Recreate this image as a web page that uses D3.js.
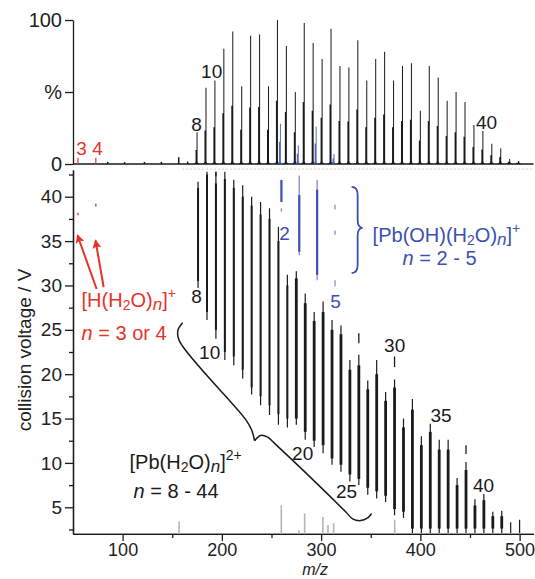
<!DOCTYPE html>
<html>
<head>
<meta charset="utf-8">
<script src="https://cdn.jsdelivr.net/npm/d3@7"></script>
<style>
	body { margin: 0; background: #fff; }
	svg { display: block; font-family: 'Liberation Sans', Arial, sans-serif; }
</style>
</head>
<body>
<div id="chart"></div>
<script>
/* [Pb(H2O)n]2+ clusters */
const clusterN = [8, 9, 10, 11, 12, 13, 14, 15, 16, 17, 18, 19, 20, 21, 22, 23, 24, 25, 26, 27, 28, 29, 30, 31, 32, 33, 34, 35, 36, 37, 38, 39, 40, 41, 42, 43, 44]
const clusterMz = [176, 185, 194, 203, 212, 221, 230, 239, 248, 257, 266, 275, 284, 293, 302, 311, 320, 329, 338, 347, 356, 365, 374, 383, 392, 401, 410, 419, 428, 437, 446, 455, 464, 473, 482, 491, 500]
const clusterIntensity = [22, 53, 58, 80, 92, 54, 89, 90, 54, 100, 82, 50, 98, 84, 73, 94, 68, 67, 86, 58, 73, 78, 58, 68, 70, 37, 68, 60, 44, 50, 43, 27, 23, 14, 11, 3.5, 2]
// collision voltage range where each cluster is seen (thin trace, and dense core)
const voltLow = [29.7, 26.1, 24.0, 21.6, 21.0, 19.5, 17.7, 16.5, 15.4, 14.3, 14.0, 14.3, 12.6, 11.8, 11.1, 9.8, 9.0, 7.9, 7.5, 6.4, 6.0, 5.6, 4.1, 3.8, 2.1, 2.1, 2.1, 2.1, 2.1, 2.1, 2.1, 2.1, 2.1, 2.1, 2.1, 2.1, 2.1]
const voltHigh = [41.7, 42.8, 42.8, 42.8, 41.9, 41.3, 40.0, 39.4, 38.7, 36.6, 31.2, 31.6, 29.1, 27.0, 28.2, 26.1, 25.5, 21.6, 22.2, 19.3, 21.6, 18.0, 19.4, 15.0, 17.2, 13.0, 14.4, 12.6, 12.6, 8.3, 10.1, 5.9, 6.5, 4.5, 4.6, 3.3, 3.6]
const coreLow = [30.5, 27.0, 25.0, 22.5, 22.0, 20.5, 18.5, 17.5, 16.5, 15.5, 15.0, 15.0, 13.5, 12.5, 12.0, 10.5, 9.8, 8.7, 8.2, 7.2, 6.8, 6.3, 4.8, 4.5, 2.6, 2.6, 2.6, 2.6, 2.6, 2.6, 2.6, 2.6, 2.6, 2.6, 2.6, 2.1, 2.1]
const coreHigh = [41.0, 42.5, 41.5, 42.0, 41.0, 40.0, 39.0, 38.0, 37.5, 35.0, 30.0, 30.8, 28.0, 26.0, 27.0, 25.0, 24.5, 20.5, 21.0, 18.3, 20.0, 17.0, 18.5, 14.0, 16.0, 12.0, 13.5, 11.5, 11.5, 7.5, 9.2, 5.2, 5.8, 4.0, 4.0, 2.1, 2.1]
// stray short traces above some clusters: [m/z, low V, high V]
const clusterDashes = [[194, 42.3, 42.8], [338, 23.5, 24.6], [374, 20.8, 22.0], [446, 11.0, 12.0]]
const shoulderRatio = 0.44

/* [Pb(OH)(H2O)n]+ */
const hydroxideN = [2, 3, 4, 5]
const hydroxideMz = [260, 278, 296, 314]
const hydroxideIntensity = [28, 13, 26, 7]
// [m/z, low V, high V, thick]
const hydroxideSegments = [
	[260, 39.4, 41.9, 1], [260, 38.3, 38.7, 0],
	[278, 33.4, 42.4, 0], [278, 33.8, 40.2, 1],
	[296, 30.6, 41.9, 0], [296, 31.2, 40.8, 1],
	[314, 38.6, 39.1, 0], [314, 35.7, 36.2, 0], [314, 29.9, 30.6, 0]
]

/* [H(H2O)n]+ */
const protonN = [3, 4]
const protonMz = [55, 73]
const protonIntensity = [3, 3]
const protonSegments = [[55, 37.9, 38.2], [73, 38.9, 39.2], [73, 34.5, 35.1]]

/* minor peaks on the spectrum baseline, and low-voltage background in the map */
const minorMz = [85, 102, 122, 139, 156.5, 165.5]
const minorIntensity = [0.8, 0.6, 0.8, 0.8, 4, 1]
const backgroundMz = [156.9, 259.9, 277.6, 283.4, 301.8, 306.9, 312.6, 374.1]
const backgroundVolt = [3.4, 5.2, 2.4, 4.3, 3.9, 3.0, 3.2, 3.6]

const xMajor = [100, 200, 300, 400, 500]
const xMinor = [150, 250, 350, 450]
const vMajor = [5, 10, 15, 20, 25, 30, 35, 40]
const vMinor = [2.5, 7.5, 12.5, 17.5, 22.5, 27.5, 32.5, 37.5, 42.5]
const iTicks = [0, 50, 100]
const iLabels = ['0', '%', '100']

const dimensions = { width: 535, height: 579 }
const ink = '#1a1a1a'
const red = '#e6332a'
const blue = '#3b50b2'
const gray = '#b5b5b5'

const svg = d3.select('#chart')
	.append('svg')
	.attr('width', dimensions.width)
	.attr('height', dimensions.height)

const x = d3.scaleLinear().domain([50, 514]).range([73, 533.5])
const yV = d3.scaleLinear().domain([2, 43]).range([533.9, 170.1])
const yI = d3.scaleLinear().domain([0, 100]).range([164, 20])

const tickFont = 18
const noteFont = 20
const numFont = 19

/* ---------- Axes ---------- */
const styleAxis = (size) => (g) => {
	g.selectAll('path, line').attr('stroke', ink).attr('stroke-width', 1.3)
	g.selectAll('text').attr('fill', '#222').attr('font-size', size).attr('font-family', null)
}

svg.append('g')
	.attr('transform', `translate(0,${yV(2)})`)
	.call(d3.axisBottom(x).tickValues(xMajor).tickSize(7).tickSizeOuter(0).tickPadding(2))
	.call(styleAxis(tickFont))

svg.append('g')
	.attr('transform', `translate(0,${yV(2)})`)
	.call(d3.axisBottom(x).tickValues(xMinor).tickSize(4).tickFormat('').tickSizeOuter(0))
	.call(styleAxis(tickFont))

svg.append('g')
	.attr('transform', `translate(${x(50)},0)`)
	.call(d3.axisLeft(yV).tickValues(vMajor).tickSize(8).tickSizeOuter(0).tickPadding(3))
	.call(styleAxis(19))

svg.append('g')
	.attr('transform', `translate(${x(50)},0)`)
	.call(d3.axisLeft(yV).tickValues(vMinor).tickSize(4).tickFormat('').tickSizeOuter(0))
	.call(styleAxis(19))

svg.append('g')
	.attr('transform', `translate(${x(50)},0)`)
	.call(d3.axisLeft(yI).tickValues(iTicks).tickSize(8).tickSizeOuter(0).tickPadding(3)
		.tickFormat((d, i) => iLabels[i]))
	.call(styleAxis(20))

// spectrum baseline
svg.append('line')
	.attr('x1', x(50)).attr('x2', x(514))
	.attr('y1', yI(0)).attr('y2', yI(0))
	.attr('stroke', ink).attr('stroke-width', 1.3)

// faint trace along the top of the map
svg.append('line')
	.attr('x1', x(160)).attr('x2', x(514))
	.attr('y1', yV(43) - 1).attr('y2', yV(43) - 1)
	.attr('stroke', '#d0d0d0').attr('stroke-width', 1).attr('stroke-dasharray', '2,2')

/* axis titles */
svg.append('text')
	.attr('transform', `translate(24,350) rotate(-90)`)
	.attr('text-anchor', 'middle')
	.attr('dy', '0.35em')
	.attr('font-size', 19)
	.attr('fill', '#222')
	.text('collision voltage / V')

svg.append('text')
	.attr('x', x(294)).attr('y', 575)
	.attr('text-anchor', 'middle')
	.attr('font-size', 16)
	.attr('font-style', 'italic')
	.attr('fill', '#222')
	.text('m/z')

/* ---------- Spectrum ---------- */
const peakPath = (px, top, shoulder) => {
	const base = yI(0)
	return `M${px - 4},${base} Q${px - 1.5},${base} ${px - 1.5},${base - 3} L${px - 1.5},${shoulder} ` +
		`L${px - 0.5},${shoulder} L${px - 0.5},${top} L${px + 0.5},${top} L${px + 0.5},${base - 3} ` +
		`Q${px + 0.5},${base} ${px + 3.5},${base} Z`
}

svg.append('g')
	.selectAll('path')
	.data(clusterMz)
	.join('path')
	.attr('d', (d, i) => peakPath(x(d) - 1, yI(clusterIntensity[i]), yI(clusterIntensity[i] * shoulderRatio)))
	.attr('fill', ink)

svg.append('g')
	.selectAll('path')
	.data(hydroxideMz)
	.join('path')
	.attr('d', (d, i) => peakPath(x(d) - 1, yI(hydroxideIntensity[i]), yI(hydroxideIntensity[i] * 0.55)))
	.attr('fill', blue)
	.attr('opacity', 0.85)

svg.append('g')
	.selectAll('line')
	.data(minorMz)
	.join('line')
	.attr('x1', (d) => x(d)).attr('x2', (d) => x(d))
	.attr('y1', yI(0)).attr('y2', (d, i) => yI(minorIntensity[i]) - 1)
	.attr('stroke', ink).attr('stroke-width', 1.5)

svg.append('g')
	.selectAll('line')
	.data(protonMz)
	.join('line')
	.attr('x1', (d) => x(d)).attr('x2', (d) => x(d))
	.attr('y1', yI(0)).attr('y2', (d, i) => yI(protonIntensity[i]) - 2)
	.attr('stroke', red).attr('stroke-width', 1.2)

/* ---------- Voltage map ---------- */
const map = svg.append('g')

map.append('g')
	.selectAll('line')
	.data(backgroundMz)
	.join('line')
	.attr('x1', (d) => x(d)).attr('x2', (d) => x(d))
	.attr('y1', yV(2)).attr('y2', (d, i) => yV(backgroundVolt[i]))
	.attr('stroke', gray).attr('stroke-width', 1.6)

map.append('g')
	.selectAll('line')
	.data(clusterMz)
	.join('line')
	.attr('x1', (d) => x(d)).attr('x2', (d) => x(d))
	.attr('y1', (d, i) => yV(voltLow[i])).attr('y2', (d, i) => yV(voltHigh[i]))
	.attr('stroke', ink).attr('stroke-width', 1.2)

map.append('g')
	.selectAll('line')
	.data(clusterMz)
	.join('line')
	.attr('x1', (d) => x(d)).attr('x2', (d) => x(d))
	.attr('y1', (d, i) => yV(coreLow[i])).attr('y2', (d, i) => yV(coreHigh[i]))
	.attr('stroke', ink).attr('stroke-width', (d, i) => clusterN[i] < 19 ? 2 : 2.8)

map.append('g')
	.selectAll('line')
	.data(clusterDashes)
	.join('line')
	.attr('x1', (d) => x(d[0])).attr('x2', (d) => x(d[0]))
	.attr('y1', (d) => yV(d[1])).attr('y2', (d) => yV(d[2]))
	.attr('stroke', ink).attr('stroke-width', 1.3)

map.append('g')
	.selectAll('line')
	.data(hydroxideSegments)
	.join('line')
	.attr('x1', (d) => x(d[0])).attr('x2', (d) => x(d[0]))
	.attr('y1', (d) => yV(d[1])).attr('y2', (d) => yV(d[2]))
	.attr('stroke', blue)
	.attr('stroke-opacity', (d) => d[3] ? 1 : 0.6)
	.attr('stroke-width', (d) => d[3] ? 2.2 : 1.4)

map.append('g')
	.selectAll('line')
	.data(protonSegments)
	.join('line')
	.attr('x1', (d) => x(d[0])).attr('x2', (d) => x(d[0]))
	.attr('y1', (d) => yV(d[1])).attr('y2', (d) => yV(d[2]))
	.attr('stroke', red).attr('stroke-width', 1.4)

/* ---------- Annotations ---------- */
const label = (mz, y, text, color) => {
	svg.append('text')
		.attr('x', x(mz)).attr('y', y)
		.attr('dy', '0.35em')
		.attr('text-anchor', 'middle')
		.attr('font-size', numFont)
		.attr('fill', color)
		.text(text)
}

// spectrum labels
label(174.6, yI(27.8), '8', ink)
label(189.7, yI(64.6), '10', ink)
label(466.7, yI(29.2), '40', ink)
label(58.7, yI(11.1), '3', red)
label(74.8, yI(11.1), '4', red)

// map labels
label(174.6, yV(28.8), '8', ink)
label(187.7, yV(22.5), '10', ink)
label(281.4, yV(11.1), '20', ink)
label(325.7, yV(6.8), '25', ink)
label(374.1, yV(23.3), '30', ink)
label(420.9, yV(15.4), '35', ink)
label(463.7, yV(7.5), '40', ink)
label(263.2, yV(35.9), '2', blue)
label(314.6, yV(28.2), '5', blue)

// formula text with sub/superscripts
const formula = (mz, volt, parts, color) => {
	const t = svg.append('text')
		.attr('x', x(mz)).attr('y', yV(volt))
		.attr('font-size', noteFont)
		.attr('fill', color)
	let shift = 0
	parts.forEach(([s, kind]) => {
		const target = kind === 'sub' || kind === 'subi' ? 3 : kind === 'sup' ? -9 : 0
		const span = t.append('tspan').attr('dy', target - shift).text(s)
		if (kind === 'sub' || kind === 'sup') span.attr('font-size', 14)
		if (kind === 'subi') span.attr('font-style', 'italic').attr('font-size', 17)
		if (kind === 'i') span.attr('font-style', 'italic')
		shift = target
	})
}

formula(58.6, 27.6, [['[H(H'], ['2', 'sub'], ['O)'], ['n', 'subi'], [']'], ['+', 'sup']], red)
formula(58.6, 23.8, [['n', 'i'], [' = 3 or 4']], red)

formula(351.9, 34.9, [['[Pb(OH)(H'], ['2', 'sub'], ['O)'], ['n', 'subi'], [']'], ['+', 'sup']], blue)
formula(382.1, 32.3, [['n', 'i'], [' = 2 - 5']], blue)

formula(107, 9.3, [['[Pb(H'], ['2', 'sub'], ['O)'], ['n', 'subi'], [']'], ['2+', 'sup']], ink)
formula(111, 6.0, [['n', 'i'], [' = 8 - 44']], ink)

// red arrows
const defs = svg.append('defs')
defs.append('marker')
	.attr('id', 'arrow')
	.attr('viewBox', '0 0 10 10')
	.attr('refX', 8).attr('refY', 5)
	.attr('markerWidth', 5.5).attr('markerHeight', 4.5)
	.attr('markerUnits', 'strokeWidth')
	.attr('orient', 'auto')
	.append('path')
	.attr('d', 'M0,0 L10,5 L0,10 L2,5 Z')
	.attr('fill', red)

const arrows = [[73.8, 29.6, 54.7, 35.6], [80.9, 29.8, 72.8, 35.0]]
svg.append('g')
	.selectAll('line')
	.data(arrows)
	.join('line')
	.attr('x1', (d) => x(d[0])).attr('y1', (d) => yV(d[1]))
	.attr('x2', (d) => x(d[2])).attr('y2', (d) => yV(d[3]))
	.attr('stroke', red).attr('stroke-width', 2)
	.attr('marker-end', 'url(#arrow)')

// big brace for [Pb(H2O)n]2+ (two arms meeting at the cusp)
const braceUpper = [[160.5, 25.8], [155.6, 24.9], [157.4, 23.7], [223.9, 14.9], [230.0, 13.7], [233.0, 12.5]]
const braceLower = [[233.0, 12.5], [239.0, 13.1], [246.1, 12.9], [253.1, 12.2], [324.7, 4.5], [331.7, 3.7], [339.8, 3.5], [346.9, 3.8], [350.9, 4.3]]
const braceLine = d3.line()
	.x((d) => x(d[0]))
	.y((d) => yV(d[1]))
	.curve(d3.curveCatmullRom)

svg.append('g')
	.selectAll('path')
	.data([braceUpper, braceLower])
	.join('path')
	.attr('d', braceLine)
	.attr('fill', 'none')
	.attr('stroke', ink)
	.attr('stroke-width', 1.5)

// blue brace for [Pb(OH)(H2O)n]+
const bx = x(330.7)
const bTip = x(341.8)
const bTop = yV(41.1)
const bBot = yV(31.4)
const bMid = yV(36.5)
const bw = (bTip - bx) * 0.55
svg.append('path')
	.attr('d', `M${bx},${bTop} Q${bx + bw},${bTop} ${bx + bw},${bTop + 8} ` +
		`L${bx + bw},${bMid - 8} Q${bx + bw},${bMid} ${bTip},${bMid} ` +
		`Q${bx + bw},${bMid} ${bx + bw},${bMid + 8} ` +
		`L${bx + bw},${bBot - 8} Q${bx + bw},${bBot} ${bx},${bBot}`)
	.attr('fill', 'none')
	.attr('stroke', blue)
	.attr('stroke-width', 1.8)
</script>
</body>
</html>
